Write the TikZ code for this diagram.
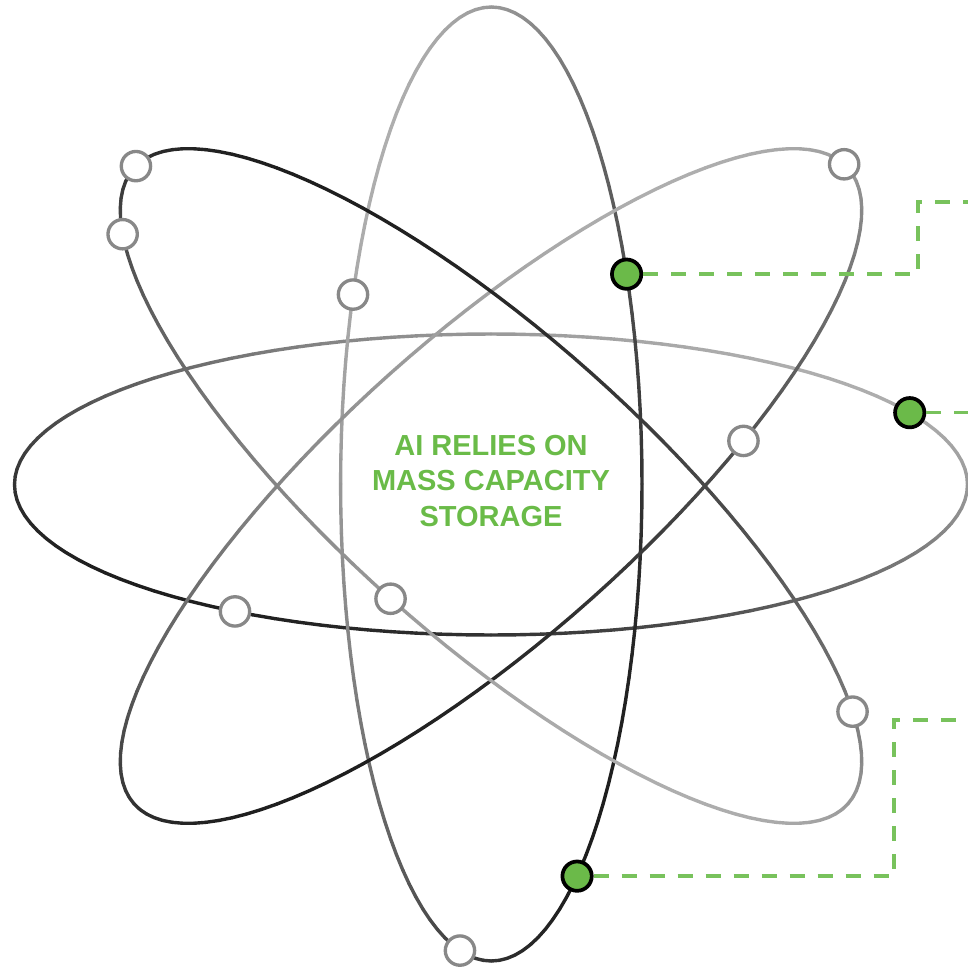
\documentclass[tikz,border=0pt]{standalone}
\usepackage{fontspec}
\setmainfont{Liberation Sans}
\definecolor{gtext}{RGB}{106,187,72}
\definecolor{gfill}{RGB}{107,186,73}
\definecolor{gdash}{RGB}{120,194,92}
\definecolor{ringgray}{RGB}{136,136,136}
\newcommand\gradellipse[8]{%
  \foreach \t in {0,3,...,357}{%
    \pgfmathsetmacro\tb{\t+3}%
    \pgfmathsetmacro\g{(30+72*(1+cos(\t+1.5-45)))/255}%
    \definecolor{segc}{gray}{\g}%
    \draw[orbit,segc] ({#1+(#3)*cos(\t)*(#5)+(#4)*sin(\t)*(#7)},{#2+(#3)*cos(\t)*(#6)+(#4)*sin(\t)*(#8)}) -- ({#1+(#3)*cos(\tb)*(#5)+(#4)*sin(\tb)*(#7)},{#2+(#3)*cos(\tb)*(#6)+(#4)*sin(\tb)*(#8)});
  }}
\begin{document}
\begin{tikzpicture}[x=0.75pt,y=-0.75pt,
  orbit/.style={line width=2.55pt,line cap=round},
  wc/.style={circle,draw=ringgray,fill=white,line width=2.5pt,minimum size=22pt,inner sep=0pt},
  gc/.style={circle,draw=black,fill=gfill,line width=2.8pt,minimum size=22pt,inner sep=0pt},
  link/.style={gdash,line width=2.55pt,dash pattern=on 11.25pt off 9.75pt}]
\useasboundingbox (0,0) rectangle (968,967);
% orbits
\gradellipse{491}{484.5}{476.5}{150.5}{1}{0}{0}{-1}
\gradellipse{491.3}{484}{477}{150.7}{0}{-1}{-1}{0}
\gradellipse{491}{486}{478}{151}{0.7466}{-0.6652}{-0.6652}{-0.7466}
\gradellipse{491}{486}{478}{151}{0.7466}{0.6652}{-0.6652}{0.7466}
% centre text
\node[text=gtext,font=\fontsize{21.75}{26.6}\selectfont\bfseries,align=center] (title) at (491,481) {AI RELIES ON\\MASS CAPACITY\\STORAGE};
% white rings on E1
\node[wc] (w1) at ({491+476.5*cos(-122.5)},{484.5-150.5*sin(-122.5)}) {};
% white rings on E2
\node[wc] (w2) at ({491.3-150.7*sin(66.6)},{484-477*cos(66.6)}) {};
\node[wc] (w3) at ({491.3-150.7*sin(168)},{484-477*cos(168)}) {};
% white rings on E3
\node[wc] (w4) at ({491+478*cos(2)*0.7466-151*sin(2)*0.6652},{486-478*cos(2)*0.6652-151*sin(2)*0.7466}) {};
\node[wc] (w5) at ({491+478*cos(-62.8)*0.7466-151*sin(-62.8)*0.6652},{486-478*cos(-62.8)*0.6652-151*sin(-62.8)*0.7466}) {};
% white rings on E4
\node[wc] (w6) at ({491+478*cos(181)*0.7466-151*sin(181)*0.6652},{486+478*cos(181)*0.6652+151*sin(181)*0.7466}) {};
\node[wc] (w7) at ({491+478*cos(157.8)*0.7466-151*sin(157.8)*0.6652},{486+478*cos(157.8)*0.6652+151*sin(157.8)*0.7466}) {};
\node[wc] (w8) at ({491+478*cos(90)*0.7466-151*sin(90)*0.6652},{486+478*cos(90)*0.6652+151*sin(90)*0.7466}) {};
\node[wc] (w9) at ({491+478*cos(-28.5)*0.7466-151*sin(-28.5)*0.6652},{486+478*cos(-28.5)*0.6652+151*sin(-28.5)*0.7466}) {};
% green markers
\node[gc] (g1) at ({491.3-150.7*sin(-63.9)},{484-477*cos(-63.9)}) {};
\node[gc] (g2) at ({491+476.5*cos(28.5)},{484.5-150.5*sin(28.5)}) {};
\node[gc] (g3) at ({491.3-150.7*sin(-145.3)},{484-477*cos(-145.3)}) {};
% connector bends and free ends
\coordinate (k1) at (918,202);
\coordinate (e1) at (968,202);
\coordinate (e2) at (968,400);
\coordinate (k3) at (894,720);
\coordinate (e3) at (968,720);
\draw[link] (g1.east) -- (g1.east -| k1) -- (k1) -- (e1);
\draw[link] (g2.east) -- (g2.east -| e2);
\draw[link] (g3.east) -- (g3.east -| k3) -- (k3) -- (e3);
\end{tikzpicture}
\end{document}
